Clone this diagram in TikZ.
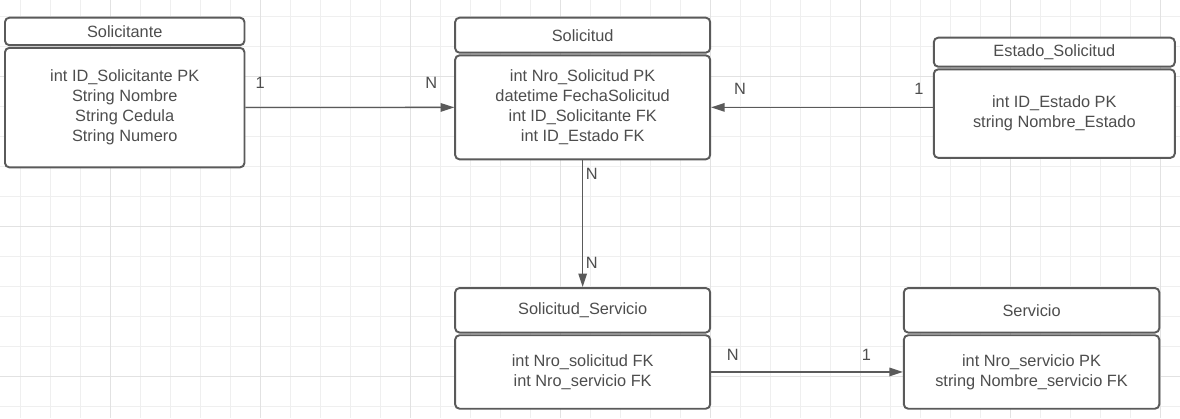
\documentclass[tikz,border=0pt]{standalone}
\usepackage{fontspec}
\setmainfont{Liberation Sans}
\usetikzlibrary{arrows.meta, positioning}
\definecolor{linegray}{HTML}{5A5A5A}
\definecolor{textgray}{HTML}{4D4D4D}
\definecolor{gridminor}{HTML}{EFEFEF}
\definecolor{gridmajor}{HTML}{E2E2E2}

\begin{document}
\begin{tikzpicture}[
    hdr/.style={rectangle, draw=linegray, line width=1.1pt, fill=white, rounded corners=2.5pt, text=textgray, font=\fontsize{9.3}{11.4}\selectfont, inner sep=0pt},
    body/.style={hdr, align=center},
    card/.style={text=textgray, font=\fontsize{9.3}{11.4}\selectfont, inner sep=0pt},
    arrow/.style={-{Triangle[length=0.27cm, width=0.17cm]}, draw=linegray, line width=0.8pt}
]
% background grid
\fill[white] (0,0) rectangle (23.6,-8.36);
\useasboundingbox (0,0) rectangle (23.6,-8.36);
\foreach \x in {0.4,1.0,...,23.3} \draw[gridminor, line width=0.55pt] (\x,0) -- (\x,-8.36);
\foreach \y in {0.333,0.933,...,8.3} \draw[gridminor, line width=0.55pt] (0,-\y) -- (23.6,-\y);
\foreach \x in {2.2,5.2,...,23.3} \draw[gridmajor, line width=0.55pt] (\x,0) -- (\x,-8.36);
\foreach \y in {1.533,4.533,7.533} \draw[gridmajor, line width=0.55pt] (0,-\y) -- (23.6,-\y);

% entities
\node[hdr, minimum width=4.79cm, minimum height=0.55cm, anchor=north west] (solicitante) at (0.08,-0.334) {Solicitante};
\node[body, minimum width=4.79cm, minimum height=2.39cm, below=0.015cm of solicitante] (solicitanteAttr) {int ID\_Solicitante PK\\String Nombre\\String Cedula\\String Numero};

\node[hdr, minimum width=5.1cm, minimum height=0.70cm, right=4.175cm of solicitante.north east, anchor=north west] (solicitud) {Solicitud};
\node[body, minimum width=5.1cm, minimum height=2.08cm, below=0.015cm of solicitud] (solicitudAttr) {int Nro\_Solicitud PK\\datetime FechaSolicitud\\int ID\_Solicitante FK\\int ID\_Estado FK};

\node[hdr, minimum width=4.82cm, minimum height=0.58cm, right=4.435cm of solicitud.north east, anchor=north west, yshift=-0.4cm] (estado) {Estado\_Solicitud};
\node[body, minimum width=4.82cm, minimum height=1.77cm, below=0.015cm of estado] (estadoAttr) {int ID\_Estado PK\\string Nombre\_Estado};

\node[hdr, minimum width=5.1cm, minimum height=0.89cm, below=2.535cm of solicitudAttr] (solServ) {Solicitud\_Servicio};
\node[body, minimum width=5.1cm, minimum height=1.47cm, below=0.015cm of solServ] (solServAttr) {int Nro\_solicitud FK\\int Nro\_servicio FK};

\node[hdr, minimum width=5.11cm, minimum height=0.89cm, right=3.835cm of solServ.north east, anchor=north west] (servicio) {Servicio};
\node[body, minimum width=5.11cm, minimum height=1.47cm, below=0.015cm of servicio] (servicioAttr) {int Nro\_servicio PK\\string Nombre\_servicio FK};

% relations
\draw[arrow] (solicitanteAttr) -- node[card, pos=0.07, above=0.37cm] {1} node[card, pos=0.89, above=0.37cm] {N} (solicitudAttr);
\draw[arrow] (solicitudAttr.east -| estadoAttr.west) -- node[card, pos=0.063, above=0.25cm] {1} node[card, pos=0.87, above=0.25cm] {N} (solicitudAttr.east);
\draw[arrow] (solicitudAttr) -- node[card, pos=0.105, right=0.05cm] {N} node[card, pos=0.81, right=0.05cm] {N} (solServ);
\draw[arrow] (solServAttr) -- node[card, pos=0.113, above=0.21cm] {N} node[card, pos=0.81, above=0.21cm] {1} (servicioAttr);
\end{tikzpicture}
\end{document}
